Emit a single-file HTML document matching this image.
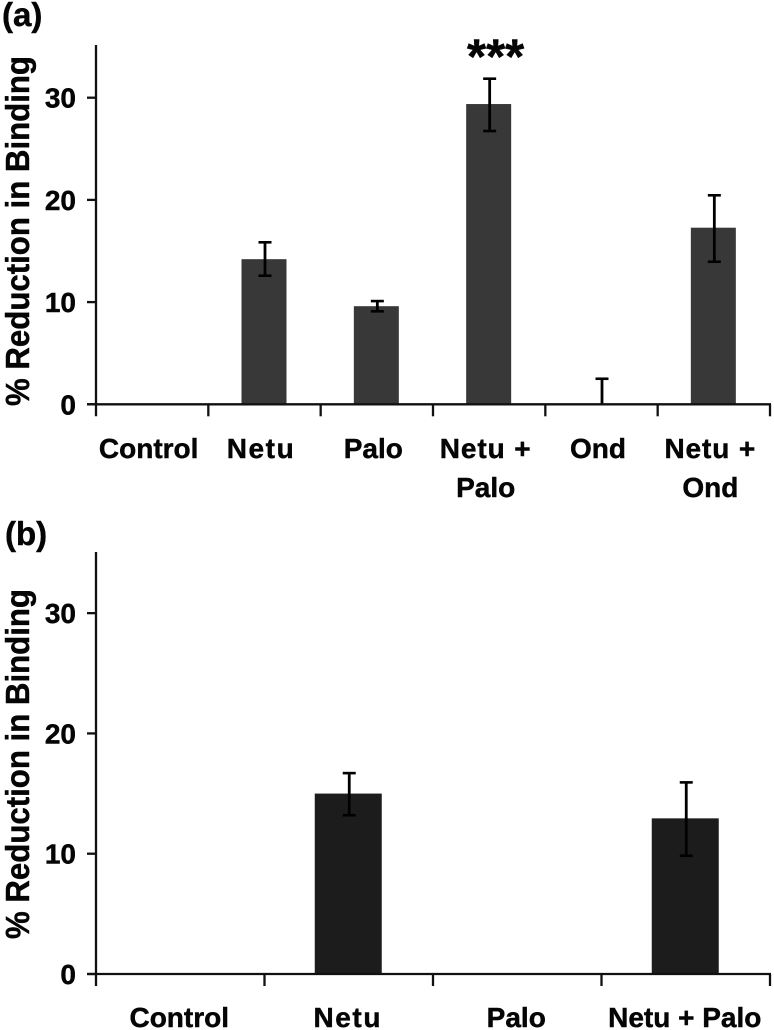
<!DOCTYPE html>
<html>
<head>
<meta charset="utf-8">
<title>Reduction in Binding</title>
<style>
html,body{margin:0;padding:0;background:#fff;}
svg{display:block;filter:blur(.35px);}
text{font-family:"Liberation Sans",sans-serif;font-weight:bold;fill:#050505;stroke:#050505;stroke-width:.45px;}
</style>
</head>
<body>
<svg id="chart" width="774" height="1030" viewBox="0 0 774 1030" xmlns="http://www.w3.org/2000/svg"></svg>
<script>
const categoriesA = ["Control", "Netu", "Palo", "Netu +|Palo", "Ond", "Netu +|Ond"];
const valuesA = [0, 14.2, 9.6, 29.38, 0, 17.28];
const errHighA = [0, 15.85, 10.1, 31.86, 2.5, 20.45];
const errLowA = [0, 12.58, 9.1, 26.74, 0, 13.95];
const categoriesB = ["Control", "Netu", "Palo", "Netu + Palo"];
const valuesB = [0, 15, 0, 12.94];
const errHighB = [0, 16.7, 0, 15.93];
const errLowB = [0, 13.2, 0, 9.83];
const yTicks = [0, 10, 20, 30];
const yMax = 35;
const significance = ["", "", "", "***", "", ""];

const svg = document.getElementById('chart');
const NS = 'http://www.w3.org/2000/svg';

function make(tag, attrs, text) {
  const el = document.createElementNS(NS, tag);
  for (const k in attrs) el.setAttribute(k, attrs[k]);
  if (text !== undefined) el.textContent = text;
  svg.appendChild(el);
  return el;
}

function spacingFor(line) {
  if (line === 'Netu') return '1.6px';
  if (line === 'Netu +') return '0.9px';
  return '0';
}

function drawPanel(cfg) {
  const y = v => cfg.zero - (v / yMax) * (cfg.zero - cfg.top);
  const band = (cfg.right - cfg.left) / cfg.categories.length;
  const cx = i => cfg.left + band * (i + 0.5);

  cfg.values.forEach((v, i) => {
    if (v <= 0) return;
    const bar = make('rect', {x: cx(i) - cfg.barW / 2 - 0.5, y: y(v), width: cfg.barW, height: cfg.zero - y(v), fill: cfg.color});
    
    
  });

  cfg.values.forEach((v, i) => {
    const hi = cfg.errHigh[i], lo = cfg.errLow[i];
    if (hi === lo) return;
    const ex = cx(i) + 0.5;
    const stem = make('line', {x1: ex, x2: ex, y1: y(hi), y2: y(lo), stroke: '#000', 'stroke-width': 2.8});
    
    
    const capTop = make('line', {x1: ex - 6.5, x2: ex + 6.5, y1: y(hi), y2: y(hi), stroke: '#000', 'stroke-width': 2.6});
    
    
    if (lo > 0) {
      const capLow = make('line', {x1: ex - 6.5, x2: ex + 6.5, y1: y(lo), y2: y(lo), stroke: '#000', 'stroke-width': 2.6});
      
      
    }
  });

  const yAxis = make('line', {x1: cfg.left, x2: cfg.left, y1: cfg.axisTop, y2: cfg.zero + 12, stroke: '#111', 'stroke-width': 2.3});
  
  
  const xAxis = make('line', {x1: cfg.left - 9, x2: cfg.right + 1, y1: cfg.zero, y2: cfg.zero, stroke: '#111', 'stroke-width': 2.3});
  
  

  yTicks.forEach(t => {
    const tick = make('line', {x1: cfg.left - 9, x2: cfg.left, y1: y(t), y2: y(t), stroke: '#111', 'stroke-width': 2.3});
    
    
    const lab = make('text', {x: cfg.left - 20, y: y(t) + 10, 'text-anchor': 'end', 'font-size': 28}, String(t));
    
    
  });

  for (let i = 1; i <= cfg.categories.length; i++) {
    const tx = cfg.left + band * i;
    const tick = make('line', {x1: tx, x2: tx, y1: cfg.zero, y2: cfg.zero + 12, stroke: '#111', 'stroke-width': 2.3});
    
    
  }

  cfg.categories.forEach((c, i) => {
    c.split('|').forEach((line, j) => {
      const lab = make('text', {x: cx(i) + cfg.labelShift, y: cfg.labelY + j * 39, 'text-anchor': 'middle', 'font-size': 28, 'letter-spacing': spacingFor(line)}, line);
      
      
    });
  });

  const title = make('text', {x: 0, y: 0, 'text-anchor': 'middle', 'font-size': 33, textLength: 350, lengthAdjust: 'spacingAndGlyphs', transform: 'translate(29,' + cfg.titleY + ') rotate(-90)'}, '% Reduction in Binding');
  
  

  const pl = make('text', {x: cfg.panelX, y: cfg.panelY, 'font-size': 33}, cfg.panel);
  
  

  if (cfg.marks) {
    cfg.marks.forEach((m, i) => {
      if (!m) return;
      const s = make('text', {x: cx(i) + 6.5, y: y(cfg.errHigh[i]) - 5, 'text-anchor': 'middle', 'font-size': 49}, m);
      
      
    });
  }
}

drawPanel({id: 'a', panel: '(a)', panelX: 2, panelY: 26, categories: categoriesA, values: valuesA, errHigh: errHighA, errLow: errLowA,
  left: 96, right: 770, zero: 404.3, top: 46.6, axisTop: 45, barW: 45, color: '#383838', labelY: 458, labelShift: -3.5, titleY: 231, marks: significance});
drawPanel({id: 'b', panel: '(b)', panelX: 5, panelY: 545, categories: categoriesB, values: valuesB, errHigh: errHighB, errLow: errLowB,
  left: 96, right: 770, zero: 974, top: 553, axisTop: 552, barW: 67, color: '#1c1c1c', labelY: 1027, labelShift: -1, titleY: 764});
</script>
</body>
</html>
